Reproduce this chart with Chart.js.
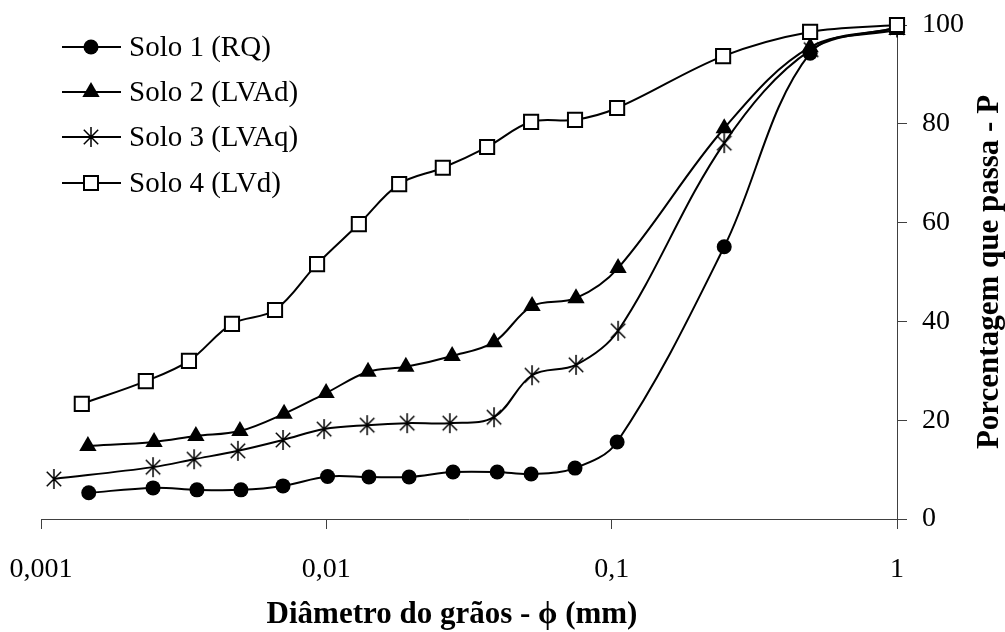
<!DOCTYPE html>
<html>
<head>
<meta charset="utf-8">
<script src="https://cdn.jsdelivr.net/npm/chart.js@4.4.1/dist/chart.umd.min.js"></script>
<style>
  html, body { margin: 0; padding: 0; background: #fff; }
  canvas { display: block; }
</style>
</head>
<body>
<canvas id="myChart" width="1005" height="632"></canvas>
<script>
// diameter (mm) / percentage passing for each soil
const diam1 = [0.00147, 0.00247, 0.00352, 0.00502, 0.00705, 0.0101, 0.0141, 0.0195, 0.0278, 0.0397, 0.0522, 0.0744, 0.1045, 0.248, 0.496, 1];
const pass1 = [5.3, 6.3, 5.9, 5.9, 6.7, 8.6, 8.5, 8.5, 9.5, 9.5, 9.1, 10.3, 15.6, 55.1, 94.3, 99.5];

const diam2 = [0.00146, 0.00249, 0.00349, 0.00498, 0.00711, 0.00998, 0.0140, 0.0190, 0.0276, 0.0387, 0.0526, 0.0750, 0.1053, 0.248, 0.496, 1];
const pass2 = [14.8, 15.6, 16.8, 17.8, 21.3, 25.5, 29.8, 30.8, 33.0, 35.8, 43.1, 44.7, 50.8, 79.1, 95.5, 99];

const diam3 = [0.00111, 0.00247, 0.00344, 0.00490, 0.00705, 0.00982, 0.0139, 0.0192, 0.0271, 0.0387, 0.0526, 0.0750, 0.1053, 0.248, 0.50, 1];
const pass3 = [8.1, 10.5, 12.1, 13.8, 16.0, 18.2, 19.0, 19.4, 19.4, 20.6, 29.1, 31.2, 38.1, 76.1, 95.0, 99.5];

const diam4 = [0.00139, 0.00233, 0.00330, 0.00467, 0.00661, 0.00928, 0.0130, 0.0180, 0.0256, 0.0366, 0.0522, 0.0744, 0.1045, 0.2458, 0.496, 1];
const pass4 = [23.3, 27.9, 32.0, 39.5, 42.3, 51.6, 59.7, 67.8, 71.1, 75.3, 80.4, 80.8, 83.2, 93.7, 98.6, 100];

const soloLabels = ["Solo 1 (RQ)", "Solo 2 (LVAd)", "Solo 3 (LVAq)", "Solo 4 (LVd)"];
const xTicks = [0.001, 0.01, 0.1, 1];
const xTickLabels = ["0,001", "0,01", "0,1", "1"];
const xTitle = "Diâmetro do grãos - ϕ (mm)";
const yTitle = "Porcentagem que passa - P";

const serif = '"Liberation Serif", "Times New Roman", serif';
const axisColor = "#404040";

// excel style star marker (vertical + X)
function makeAsterisk(size) {
  const c = document.createElement("canvas");
  c.width = size; c.height = size;
  const g = c.getContext("2d");
  const m = size / 2, r = size / 2 - 1;
  g.strokeStyle = "#000";
  g.lineWidth = 1.5;
  g.beginPath();
  g.moveTo(m, m - r); g.lineTo(m, m + r);
  g.moveTo(m - r * 0.72, m - r * 0.72); g.lineTo(m + r * 0.72, m + r * 0.72);
  g.moveTo(m + r * 0.72, m - r * 0.72); g.lineTo(m - r * 0.72, m + r * 0.72);
  g.stroke();
  return c;
}
const asterisk = makeAsterisk(22);

function toPoints(xs, ys) {
  return xs.map((x, i) => ({ x: x, y: ys[i] }));
}

const markerStyles = [
  { pointStyle: "circle", pointRadius: 7.5, pointBackgroundColor: "#000", pointBorderWidth: 0 },
  { pointStyle: "triangle", pointRadius: 10, pointBackgroundColor: "#000", pointBorderWidth: 0 },
  { pointStyle: asterisk, pointRadius: 11, pointBackgroundColor: "#000", pointBorderWidth: 0 },
  { pointStyle: "rect", pointRadius: 10, pointBackgroundColor: "#fff", pointBorderColor: "#000", pointBorderWidth: 2 },
];

const series = [[diam1, pass1], [diam2, pass2], [diam3, pass3], [diam4, pass4]];

const datasets = series.map((s, i) => Object.assign({
  label: soloLabels[i],
  data: toPoints(s[0], s[1]),
  borderColor: "#000",
  borderWidth: 2,
  tension: 0.35,
  clip: false,
  order: 4 - i,
  pointHoverRadius: 0,
}, markerStyles[i]));

// legend drawn by hand: line with marker in the middle
function drawLegendMarker(ctx, i, x, y) {
  ctx.save();
  ctx.fillStyle = "#000";
  ctx.strokeStyle = "#000";
  if (i === 0) {
    ctx.beginPath(); ctx.arc(x, y, 7.5, 0, Math.PI * 2); ctx.fill();
  } else if (i === 1) {
    const r = 10;
    ctx.beginPath();
    ctx.moveTo(x, y - r);
    ctx.lineTo(x + r * Math.sin(2 * Math.PI / 3), y + r / 2);
    ctx.lineTo(x - r * Math.sin(2 * Math.PI / 3), y + r / 2);
    ctx.closePath(); ctx.fill();
  } else if (i === 2) {
    ctx.drawImage(asterisk, x - 11, y - 11);
  } else {
    ctx.fillStyle = "#fff";
    ctx.lineWidth = 2;
    ctx.fillRect(x - 7, y - 7, 14, 14);
    ctx.strokeRect(x - 7, y - 7, 14, 14);
  }
  ctx.restore();
}

const legendAndTitles = {
  id: "legendAndTitles",
  afterDraw(chart) {
    const ctx = chart.ctx;
    ctx.save();
    // legend
    const rows = [47, 92, 137, 183];
    chart.data.datasets.forEach((ds, i) => {
      const y = rows[i];
      ctx.strokeStyle = "#000";
      ctx.lineWidth = 2;
      ctx.beginPath();
      ctx.moveTo(62, y); ctx.lineTo(121, y);
      ctx.stroke();
      drawLegendMarker(ctx, i, 91, y);
      ctx.fillStyle = "#000";
      ctx.font = "29px " + serif;
      ctx.textAlign = "left";
      ctx.textBaseline = "middle";
      ctx.fillText(ds.label, 129, y + 1);
    });
    // axis titles
    ctx.fillStyle = "#000";
    ctx.font = "bold 31px " + serif;
    ctx.textAlign = "center";
    ctx.textBaseline = "alphabetic";
    ctx.fillText(xTitle, 452, 623);
    ctx.translate(998, 272);
    ctx.rotate(-Math.PI / 2);
    ctx.fillText(yTitle, 0, 0);
    ctx.restore();
  }
};

const whiteBg = {
  id: "whiteBg",
  beforeDraw(chart) {
    const ctx = chart.ctx;
    ctx.save();
    ctx.fillStyle = "#fff";
    ctx.fillRect(0, 0, chart.width, chart.height);
    ctx.restore();
  }
};

const config = {
  type: "line",
  data: { datasets: datasets },
  options: {
    responsive: false,
    animation: false,
    events: [],
    layout: { padding: { left: 41, top: 25, right: 0, bottom: 0 } },
    plugins: {
      legend: { display: false },
      tooltip: { enabled: false },
    },
    scales: {
      x: {
        type: "logarithmic",
        min: 0.001,
        max: 1,
        afterBuildTicks: (scale) => {
          scale.ticks = xTicks.map((v) => ({ value: v }));
        },
        afterFit: (scale) => {
          scale.height = 113;
          scale.paddingLeft = 0;
          scale.paddingRight = 0;
        },
        grid: { drawOnChartArea: false, tickLength: 10, color: axisColor },
        border: { display: true, color: axisColor, width: 1 },
        ticks: {
          autoSkip: false,
          maxRotation: 0,
          padding: 24,
          color: "#000",
          font: { family: serif, size: 28 },
          callback: (v) => {
            const k = xTicks.indexOf(v);
            return k >= 0 ? xTickLabels[k] : "";
          },
        },
      },
      y: {
        position: "right",
        min: 0,
        max: 100,
        afterFit: (scale) => {
          scale.width = 108;
          scale.paddingTop = 0;
          scale.paddingBottom = 0;
        },
        grid: { drawOnChartArea: false, tickLength: 10, color: axisColor },
        border: { display: true, color: axisColor, width: 1 },
        ticks: {
          stepSize: 20,
          padding: 15,
          color: "#000",
          font: { family: serif, size: 28 },
        },
      },
    },
  },
  plugins: [whiteBg, legendAndTitles],
};

const myChart = new Chart(document.getElementById("myChart"), config);
</script>
</body>
</html>
